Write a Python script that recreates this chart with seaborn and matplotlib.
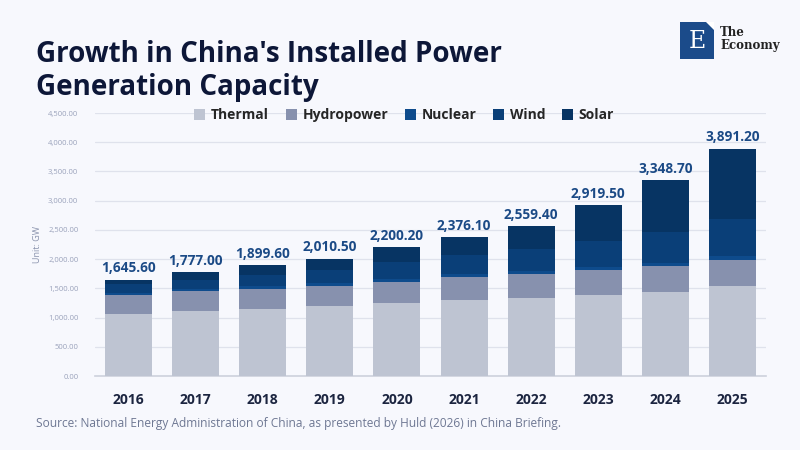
import pandas as pd
import matplotlib.pyplot as plt
import seaborn as sns
from matplotlib.patches import Patch, Rectangle, Polygon

years = ['2016', '2017', '2018', '2019', '2020', '2021', '2022', '2023', '2024', '2025']
thermal = [1054, 1106, 1144, 1191, 1245, 1297, 1333, 1390, 1444, 1540]
hydro = [332, 341, 352, 356, 370, 391, 414, 422, 436, 450]
nuclear = [34, 36, 45, 49, 50, 53, 56, 57, 61, 62]
wind = [149, 164, 184, 210, 282, 328, 365, 441, 521, 640]
solar = [76.6, 130, 174.6, 204.5, 253.2, 307.1, 391.4, 609.5, 886.7, 1199.2]
totals = [1645.6, 1777.0, 1899.6, 2010.5, 2200.2, 2376.1, 2559.4, 2919.5, 3348.7, 3891.2]

series = ['Thermal', 'Hydropower', 'Nuclear', 'Wind', 'Solar']
colors = ['#bec4d2', '#8791ae', '#0e4b8c', '#0a3f78', '#073463']

df = pd.DataFrame({'year': years, 'Thermal': thermal, 'Hydropower': hydro,
                   'Nuclear': nuclear, 'Wind': wind, 'Solar': solar})

bg = '#f7f8fd'
sns.set_theme(style='white')
plt.rcParams['font.family'] = ['Open Sans', 'DejaVu Sans']

fig = plt.figure(figsize=(8, 4.5), dpi=100, facecolor=bg)
ax = fig.add_axes([0.11875, 0.1644, 0.8387, 0.5844], facecolor=bg)

# stacked bars: draw cumulative heights from the top layer down
cum = df[series].cumsum(axis=1)
for name, col in reversed(list(zip(series, colors))):
    sns.barplot(x=df['year'], y=cum[name], color=col, width=0.7,
                saturation=1, linewidth=0, edgecolor='none', ax=ax, zorder=3)

for i, t in enumerate(totals):
    ax.text(i, t + 75, f'{t:,.2f}', ha='center', va='bottom', fontsize=9.8,
            fontweight='bold', color='#1b4a86')

ax.set_ylim(0, 4500)
ax.set_xlim(-0.5, 9.5)
ax.set_yticks(range(0, 4501, 500))
ax.set_yticklabels([f'{v:,.2f}' for v in range(0, 4501, 500)], fontsize=5.5, color='#9aa2bb')
ax.yaxis.grid(True, color='#dfe2ec', linewidth=0.9, zorder=0)
ax.set_axisbelow(True)
ax.tick_params(axis='x', length=0, pad=12)
ax.tick_params(axis='y', length=0, pad=12)
for lab in ax.get_xticklabels():
    lab.set_fontweight('bold')
    lab.set_fontsize(10)
    lab.set_color('#1c2540')
ax.set_xlabel('')
ax.set_ylabel('Unit: GW', fontsize=6.5, color='#8a93ad', labelpad=4)
for s in ['top', 'right', 'left']:
    ax.spines[s].set_visible(False)
ax.spines['bottom'].set_color('#cdd1dc')
ax.spines['bottom'].set_linewidth(1.2)

handles = [Patch(facecolor=c, edgecolor='none') for c in colors]
fig.legend(handles, series, loc='center', bbox_to_anchor=(0.505, 0.744), ncol=5,
           frameon=False, handlelength=0.8, handleheight=0.8, handletextpad=0.4,
           columnspacing=1.2, prop={'weight': 'bold', 'size': 10})

fig.text(0.045, 0.91, "Growth in China's Installed Power\nGeneration Capacity",
         fontsize=20, fontweight='bold', color='#0d1738', va='top', ha='left',
         linespacing=1.15)
fig.text(0.045, 0.058, 'Source: National Energy Administration of China, as presented by Huld (2026) in China Briefing.',
         fontsize=8.6, color='#6e7893', ha='left', va='center')

# logo
fig.patches.append(Rectangle((680 / 800, 1 - 59 / 450), 34 / 800, 37 / 450,
                             transform=fig.transFigure, facecolor='#1b4b8a', edgecolor='none'))
fig.patches.append(Polygon([(706 / 800, 1 - 22 / 450), (714 / 800, 1 - 22 / 450), (714 / 800, 1 - 30 / 450)],
                           closed=True, transform=fig.transFigure, facecolor='white', edgecolor='none'))
fig.text(697 / 800, 1 - 41 / 450, 'E', fontsize=17, color='white', family='DejaVu Serif',
         ha='center', va='center')
fig.text(720 / 800, 1 - 33 / 450, 'The', fontsize=8.5, color='#222222', family='DejaVu Serif',
         fontweight='bold', ha='left', va='center')
fig.text(720 / 800, 1 - 46 / 450, 'Economy', fontsize=8.5, color='#222222', family='DejaVu Serif',
         fontweight='bold', ha='left', va='center')

fig.savefig('out.png', dpi=100, facecolor=bg)
